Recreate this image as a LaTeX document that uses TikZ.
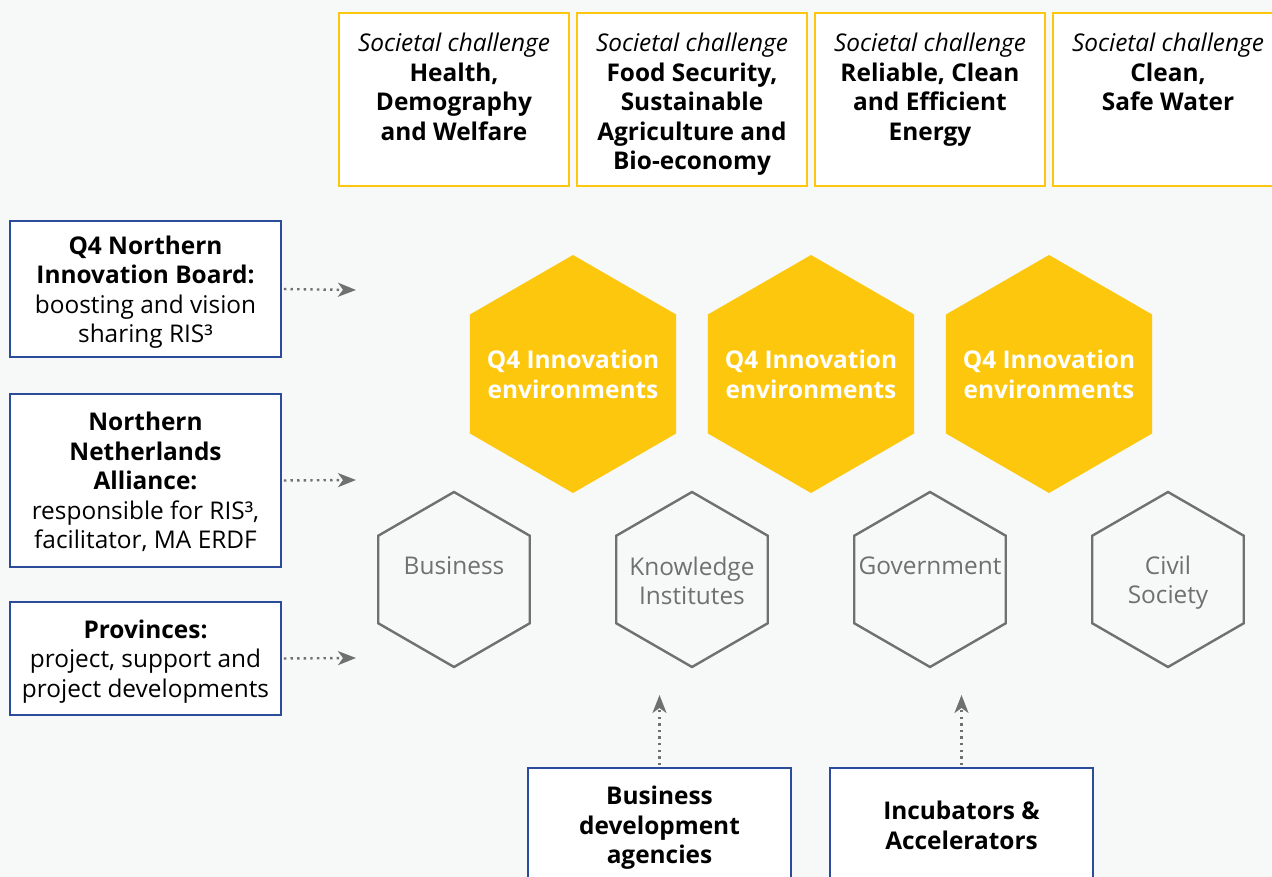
\documentclass[tikz,border=0pt]{standalone}
\usepackage{fontspec}
\setmainfont{Open Sans}
\usepackage{tikz}
\usetikzlibrary{calc,arrows.meta,shapes.geometric}
\definecolor{bgcol}{HTML}{F7F8F8}
\definecolor{qyellow}{HTML}{FDC70E}
\definecolor{qblue}{HTML}{2B4C9B}
\definecolor{qgrey}{HTML}{707070}

\begin{document}
\begin{tikzpicture}[x=1pt,y=-1pt,
  font=\fontsize{24.4}{29.5}\selectfont,
  chbox/.style={draw=qyellow,line width=2pt,fill=white,minimum width=230pt,minimum height=173pt,inner sep=0pt},
  chtext/.style={anchor=north,align=center,inner sep=0pt},
  actor/.style={draw=qblue,line width=1.8pt,fill=white,align=center,minimum width=271pt,inner sep=0pt,text depth=0pt},
  support/.style={draw=qblue,line width=1.8pt,fill=white,align=center,minimum width=263pt,minimum height=114pt,inner sep=0pt,text depth=0pt},
  env/.style={regular polygon,regular polygon sides=6,shape border rotate=30,fill=qyellow,minimum size=238pt,inner sep=0pt},
  helix/.style={regular polygon,regular polygon sides=6,shape border rotate=30,draw=qgrey,line width=2.4pt,minimum size=175pt,inner sep=0pt},
  envtext/.style={text=white,font=\fontsize{24.4}{29.5}\selectfont\bfseries,align=center,inner sep=0pt},
  helixtext/.style={text=qgrey,align=center,inner sep=0pt},
  flow/.style={qgrey,line width=2.4pt,dash pattern=on 2.4pt off 4.2pt,-{Stealth[length=18pt,width=14pt,inset=5pt]}}
  ]
\useasboundingbox[fill=bgcol] (0,0) rectangle (1272,877);
\clip (0,0) rectangle (1272,877);

\node[chbox] (health) at (454,99.5) {};
\node[chtext] (healtht) at (454,33) {\textit{Societal challenge}\\\textbf{Health,}\\\textbf{Demography}\\\textbf{and Welfare}};
\node[chbox] (food) at (692,99.5) {};
\node[chtext] (foodt) at (692,33) {\textit{Societal challenge}\\\textbf{Food Security,}\\\textbf{Sustainable}\\\textbf{Agriculture and}\\\textbf{Bio-economy}};
\node[chbox] (energy) at (930,99.5) {};
\node[chtext] (energyt) at (930,33) {\textit{Societal challenge}\\\textbf{Reliable, Clean}\\\textbf{and Efficient}\\\textbf{Energy}};
\node[chbox] (water) at (1168,99.5) {};
\node[chtext] (watert) at (1168,33) {\textit{Societal challenge}\\\textbf{Clean,}\\\textbf{Safe Water}};

\node[actor,minimum height=136pt] (board) at (145.5,289) {\textbf{Q4 Northern}\\\textbf{Innovation Board:}\\boosting and vision\\sharing RIS³};
\node[actor,minimum height=173pt] (alliance) at (145.5,480.5) {\textbf{Northern}\\\textbf{Netherlands}\\\textbf{Alliance:}\\responsible for RIS³,\\facilitator, MA ERDF};
\node[actor,minimum height=113pt] (provinces) at (145.5,658.5) {\textbf{Provinces:}\\project, support and\\project developments};

\coordinate (boardend) at (356,290);
\coordinate (allianceend) at (356,480);
\coordinate (provincesend) at (356,658);
\draw[flow,shorten <=2pt] (board.east) -- (boardend);
\draw[flow,shorten <=2pt] (alliance.east) -- (allianceend);
\draw[flow,shorten <=2pt] (provinces.east) -- (provincesend);

\foreach \n/\cx in {envA/573,envB/811,envC/1049}{
  \node[env] (\n) at (\cx,374) {};
  \node[envtext] (\n t) at (\cx,374.5) {Q4 Innovation\\environments};
}

\node[helix] (business) at (454,579.5) {};
\node[helix] (knowledge) at (692,579.5) {};
\node[helix] (government) at (930,579.5) {};
\node[helix] (civil) at (1168,579.5) {};
\node[helixtext] (businesst) at (454,566) {Business};
\node[helixtext] (knowledget) at (692,581) {Knowledge\\Institutes};
\node[helixtext] (governmentt) at (930,566) {Government};
\node[helixtext] (civilt) at (1168,582.5) {Civil\\Society};

\node[support] (agencies) at (659.5,825) {\textbf{Business}\\\textbf{development}\\\textbf{agencies}};
\node[support] (incubators) at (961.5,825) {\textbf{Incubators \&}\\\textbf{Accelerators}};
\coordinate (agenciesend) at (659.5,695);
\coordinate (incubatorsend) at (961.5,695);
\draw[flow,shorten <=2pt] (agencies.north) -- (agenciesend);
\draw[flow,shorten <=2pt] (incubators.north) -- (incubatorsend);
\end{tikzpicture}
\end{document}
